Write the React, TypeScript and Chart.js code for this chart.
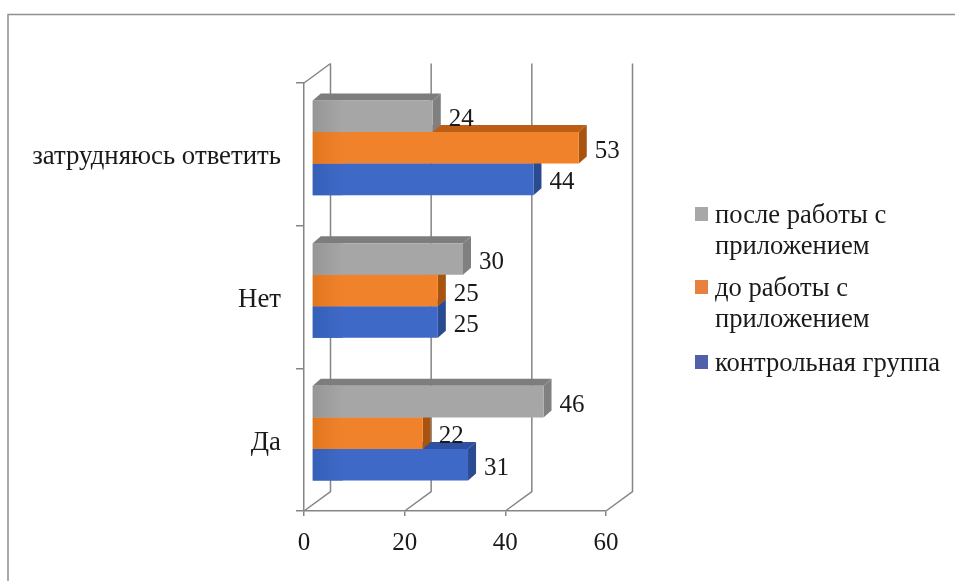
import { useEffect, useRef } from "react";
import { Chart, registerables } from "chart.js";

Chart.register(...registerables);

const categories = ["затрудняюсь ответить", "Нет", "Да"];
const seriesNames = ["после работы с приложением", "до работы с приложением", "контрольная группа"];
const legendLines = [["после работы с", "приложением"], ["до работы с", "приложением"], ["контрольная группа"]];
const afterApp = [24, 30, 46];
const beforeApp = [53, 25, 22];
const controlGroup = [44, 25, 31];
const xTicks = [0, 20, 40, 60];

const FONT = '"Liberation Serif", serif';
const LINE = "#858585";
const TEXT = "#1a1a1a";

const frontFill = ["#a6a6a6", "#f0822c", "#3f69c6"];
const frontEdge = ["#969696", "#e2761f", "#3560b8"];
const topFill = ["#7d7d7d", "#bd5e16", "#2f50a0"];
const sideFill = ["#808080", "#a8540f", "#2a4a92"];
const legendFill = ["#a8a8a8", "#e88040", "#5060aa"];

// Depth of the 3D box: back wall offset, bar offset from the front plane, bar thickness.
const WALL = { dx: 26.5, dy: -19.5 };
const BAR_SHIFT = { dx: 8, dy: -6.5 };
const BAR_DEPTH = { dx: 8, dy: -7 };

const wallPlugin = {
  id: "walls",
  beforeDatasetsDraw(chart: any) {
    const { ctx, scales, chartArea } = chart;
    const { top, bottom, left } = chartArea;
    ctx.save();
    ctx.strokeStyle = LINE;
    ctx.lineWidth = 1.5;
    ctx.beginPath();
    // Diagonal at the top of the value axis wall.
    ctx.moveTo(left, top);
    ctx.lineTo(left + WALL.dx, top + WALL.dy);
    for (const v of xTicks) {
      const x = scales.x.getPixelForValue(v);
      ctx.moveTo(x, bottom);
      ctx.lineTo(x + WALL.dx, bottom + WALL.dy);
      ctx.lineTo(x + WALL.dx, top + WALL.dy);
    }
    ctx.stroke();
    ctx.restore();
  },
};

const framePlugin = {
  id: "frame",
  beforeDraw(chart: any) {
    const { ctx, width, height } = chart;
    ctx.save();
    ctx.fillStyle = "#ffffff";
    ctx.fillRect(0, 0, width, height);
    ctx.strokeStyle = "#8f8f8f";
    ctx.lineWidth = 1.5;
    ctx.beginPath();
    ctx.moveTo(8, height);
    ctx.lineTo(8, 14.5);
    ctx.lineTo(width, 14.5);
    ctx.stroke();
    ctx.restore();
  },
};

const boxPlugin = {
  id: "boxes",
  beforeDatasetDraw(chart: any, args: any) {
    const { ctx } = chart;
    const i = args.index;
    ctx.save();
    ctx.translate(BAR_SHIFT.dx, BAR_SHIFT.dy);
    for (const bar of args.meta.data) {
      const { x, y, base, height } = bar;
      const t = y - height / 2;
      const b = y + height / 2;
      ctx.fillStyle = topFill[i];
      ctx.beginPath();
      ctx.moveTo(base, t);
      ctx.lineTo(base + BAR_DEPTH.dx, t + BAR_DEPTH.dy);
      ctx.lineTo(x + BAR_DEPTH.dx, t + BAR_DEPTH.dy);
      ctx.lineTo(x, t);
      ctx.fill();
      ctx.fillStyle = sideFill[i];
      ctx.beginPath();
      ctx.moveTo(x, t);
      ctx.lineTo(x + BAR_DEPTH.dx, t + BAR_DEPTH.dy);
      ctx.lineTo(x + BAR_DEPTH.dx, b + BAR_DEPTH.dy);
      ctx.lineTo(x, b);
      ctx.fill();
    }
  },
  afterDatasetDraw(chart: any, args: any) {
    const { ctx } = chart;
    // A soft dark band along the left of each front face.
    for (const bar of args.meta.data) {
      const { x, y, base, height } = bar;
      const grad = ctx.createLinearGradient(base, 0, base + 30, 0);
      grad.addColorStop(0, frontEdge[args.index]);
      grad.addColorStop(1, frontFill[args.index]);
      ctx.fillStyle = grad;
      ctx.fillRect(base, y - height / 2, Math.min(30, x - base), height);
    }
    ctx.restore();
  },
  afterDatasetsDraw(chart: any) {
    const { ctx } = chart;
    ctx.save();
    ctx.font = `25px ${FONT}`;
    ctx.fillStyle = TEXT;
    ctx.textAlign = "left";
    ctx.textBaseline = "middle";
    chart.data.datasets.forEach((ds: any, i: number) => {
      chart.getDatasetMeta(i).data.forEach((bar: any, k: number) => {
        ctx.fillText(String(ds.data[k]), bar.x + BAR_SHIFT.dx + BAR_DEPTH.dx + 8, bar.y + BAR_SHIFT.dy + 3.5);
      });
    });
    ctx.restore();
  },
};

const legendPlugin = {
  id: "sideLegend",
  afterDraw(chart: any) {
    const { ctx } = chart;
    const rows = [216, 289, 364];
    ctx.save();
    ctx.font = `26.6px ${FONT}`;
    ctx.textBaseline = "middle";
    ctx.textAlign = "left";
    legendLines.forEach((lines, i) => {
      ctx.fillStyle = legendFill[i];
      ctx.fillRect(695, rows[i] - 9, 13, 14);
      ctx.fillStyle = TEXT;
      lines.forEach((line, j) => ctx.fillText(line, 715, rows[i] + j * 31));
    });
    ctx.restore();
  },
};

export default function App() {
  const ref = useRef<HTMLCanvasElement>(null);

  useEffect(() => {
    const chart = new Chart(ref.current!, {
      type: "bar",
      data: {
        labels: categories,
        datasets: [afterApp, beforeApp, controlGroup].map((data, i) => ({
          label: seriesNames[i],
          data,
          backgroundColor: frontFill[i],
          categoryPercentage: 0.664,
          barPercentage: 1,
        })),
      },
      options: {
        indexAxis: "y",
        responsive: false,
        animation: false,
        layout: { padding: { left: 0, right: 349, top: 83, bottom: 30 } },
        plugins: { legend: { display: false }, tooltip: { enabled: false } },
        scales: {
          x: {
            min: 0,
            max: 60,
            afterFit: (s: any) => { s.height = 40; },
            ticks: { stepSize: 20, color: TEXT, font: { family: FONT, size: 25 }, padding: 12, maxRotation: 0 },
            grid: { drawOnChartArea: false, color: LINE, lineWidth: 1.5, tickLength: 5 },
            border: { color: LINE, width: 1.5 },
          },
          y: {
            afterFit: (s: any) => { s.width = 304; },
            ticks: { color: TEXT, font: { family: FONT, size: 26.8 }, padding: 15, labelOffset: 3 },
            grid: { drawOnChartArea: false, color: LINE, lineWidth: 1.5, tickLength: 8 },
            border: { color: LINE, width: 1.5 },
          },
        },
      },
      plugins: [framePlugin, wallPlugin, boxPlugin, legendPlugin],
    } as any);
    return () => chart.destroy();
  }, []);

  return (
    <div style={{ position: "fixed", left: 0, top: 0, width: 955, height: 581 }}>
      <canvas ref={ref} width={955} height={581} style={{ display: "block" }} />
    </div>
  );
}
